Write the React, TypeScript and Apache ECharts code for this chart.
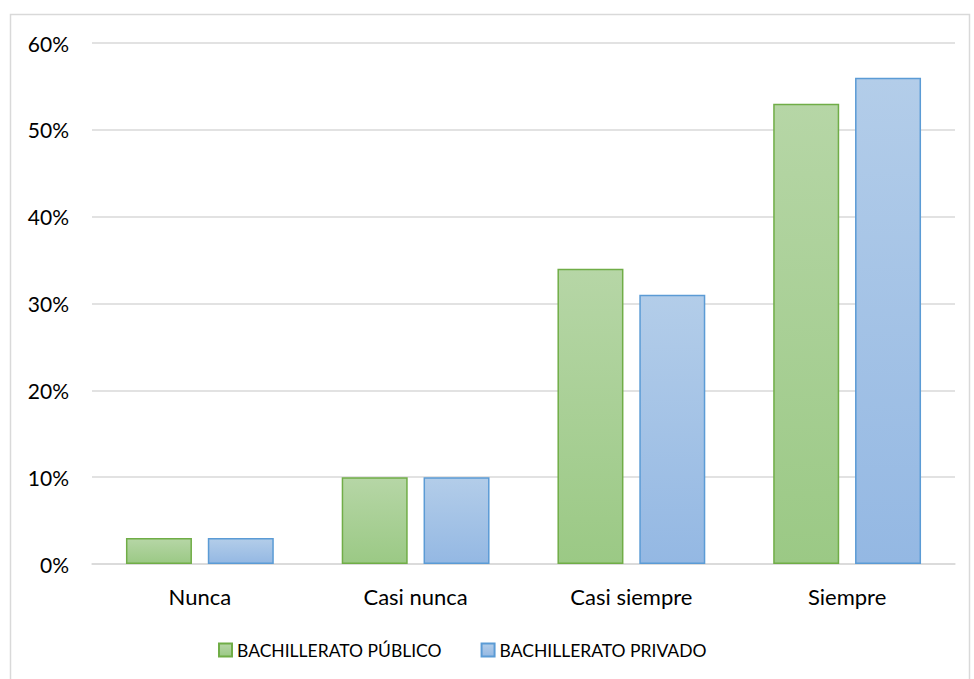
import React, { useEffect, useRef } from "react";
import * as echarts from "echarts";

const categories = ["Nunca", "Casi nunca", "Casi siempre", "Siempre"];
const publico = [3, 10, 34, 53];
const privado = [3, 10, 31, 56];
const seriesNames = ["BACHILLERATO PÚBLICO", "BACHILLERATO PRIVADO"];

const FONT = "Lato, 'Noto Sans', sans-serif";

export default function App() {
  const ref = useRef<HTMLDivElement>(null);
  useEffect(() => {
    if (!ref.current) return;
    const chart = echarts.init(ref.current, undefined, { renderer: "svg" });
    const grad = (top: string, bottom: string) =>
      new echarts.graphic.LinearGradient(0, 0, 0, 1, [
        { offset: 0, color: top },
        { offset: 1, color: bottom },
      ]);
    chart.setOption({
      animation: false,
      backgroundColor: "#ffffff",
      textStyle: { fontFamily: FONT },
      graphic: [
        {
          type: "rect",
          shape: { x: 10.5, y: 14.5, width: 959, height: 680 },
          style: { fill: "none", stroke: "#d9d9d9", lineWidth: 1.5 },
          silent: true,
        },
      ],
      grid: { left: 92, right: 19, top: 43, bottom: 115, containLabel: false },
      legend: {
        top: 641,
        left: 218,
        padding: 0,
        itemWidth: 13,
        itemHeight: 13,
        itemGap: 39,
        icon: "rect",
        textStyle: { fontFamily: FONT, fontSize: 17.5, color: "#000" },
        data: seriesNames,
      },
      xAxis: {
        type: "category",
        data: categories,
        axisLine: { lineStyle: { color: "#d9d9d9", width: 1.5 } },
        axisTick: { show: false },
        axisLabel: { fontFamily: FONT, fontSize: 22, color: "#000", margin: 21 },
      },
      yAxis: {
        type: "value",
        min: 0,
        max: 60,
        interval: 10,
        axisLine: { show: false },
        axisTick: { show: false },
        splitLine: { lineStyle: { color: "#d9d9d9", width: 1.5 } },
        axisLabel: {
          fontFamily: FONT,
          fontSize: 21,
          color: "#000",
          margin: 23,
          formatter: (v: number) => v + "%",
        },
      },
      series: [
        {
          name: seriesNames[0],
          type: "bar",
          data: publico,
          barWidth: 66,
          barGap: "24%",
          itemStyle: {
            color: grad("#b6d6a6", "#9bc985"),
            borderColor: "#70ad47",
            borderWidth: 1.5,
          },
        },
        {
          name: seriesNames[1],
          type: "bar",
          data: privado,
          barWidth: 66,
          itemStyle: {
            color: grad("#b3cde9", "#94b8e3"),
            borderColor: "#5b9bd5",
            borderWidth: 1.5,
          },
        },
      ],
    });
    return () => chart.dispose();
  }, []);
  return (
    <div
      ref={ref}
      style={{ position: "absolute", left: 0, top: 0, width: 974, height: 679 }}
    />
  );
}
